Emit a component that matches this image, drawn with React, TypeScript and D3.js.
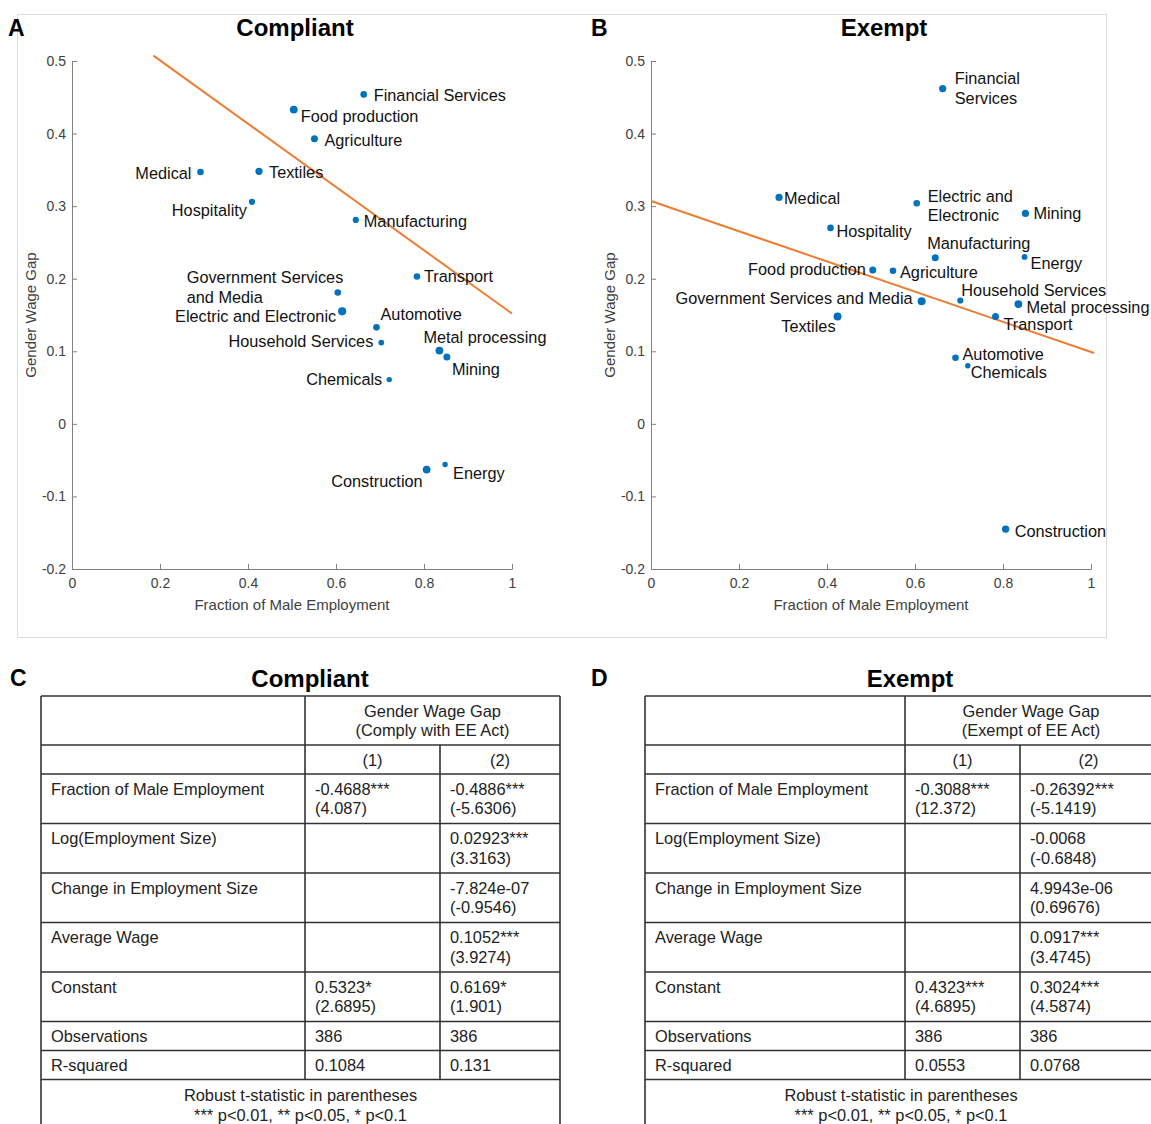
import { useEffect, useRef } from "react";
import * as d3 from "d3";

// sectors, in the same order for every array below
const sectors = [
  "Financial Services", "Food production", "Agriculture", "Medical", "Textiles",
  "Hospitality", "Manufacturing", "Transport", "Government Services and Media",
  "Electric and Electronic", "Automotive", "Household Services", "Metal processing",
  "Mining", "Chemicals", "Construction", "Energy",
];

// panel A - compliant
const compliantMale = [0.663, 0.504, 0.551, 0.292, 0.425, 0.409, 0.645, 0.784, 0.604, 0.614, 0.692, 0.703, 0.835, 0.852, 0.721, 0.806, 0.848];
const compliantGap = [0.454, 0.433, 0.393, 0.347, 0.348, 0.306, 0.281, 0.203, 0.181, 0.155, 0.133, 0.112, 0.101, 0.092, 0.061, -0.063, -0.056];
const compliantLabels = [
  "Financial Services", "Food production", "Agriculture", "Medical", "Textiles",
  "Hospitality", "Manufacturing", "Transport", "Government Services\nand Media",
  "Electric and Electronic", "Automotive", "Household Services", "Metal processing",
  "Mining", "Chemicals", "Construction", "Energy",
];
const compliantFit = { from: 0.185, to: 1.0, intercept: 0.588, slope: -0.436 };

// panel B - exempt
const exemptMale = [0.663, 0.504, 0.55, 0.291, 0.424, 0.408, 0.646, 0.783, 0.615, 0.604, 0.692, 0.703, 0.835, 0.851, 0.72, 0.806, 0.849];
const exemptGap = [0.462, 0.212, 0.211, 0.312, 0.148, 0.27, 0.229, 0.148, 0.169, 0.304, 0.091, 0.17, 0.165, 0.29, 0.08, -0.145, 0.23];
const exemptLabels = [
  "Financial\nServices", "Food production", "Agriculture", "Medical", "Textiles",
  "Hospitality", "Manufacturing", "Transport", "Government Services and Media",
  "Electric and\nElectronic", "Automotive", "Household Services", "Metal processing",
  "Mining", "Chemicals", "Construction", "Energy",
];
const exemptFit = { from: 0, to: 1.007, intercept: 0.307, slope: -0.208 };

const xTicks = [0, 0.2, 0.4, 0.6, 0.8, 1];
const yTicks = [-0.2, -0.1, 0, 0.1, 0.2, 0.3, 0.4, 0.5];

// regression tables
const compliantHeader = ["Gender Wage Gap", "(Comply with EE Act)"];
const exemptHeader = ["Gender Wage Gap", "(Exempt of EE Act)"];
const modelNames = ["(1)", "(2)"];
const rowNames = [
  "Fraction of Male Employment", "Log(Employment Size)", "Change in Employment Size",
  "Average Wage", "Constant", "Observations", "R-squared",
];
const compliantModel1 = [["-0.4688***", "(4.087)"], [], [], [], ["0.5323*", "(2.6895)"], ["386"], ["0.1084"]];
const compliantModel2 = [["-0.4886***", "(-5.6306)"], ["0.02923***", "(3.3163)"], ["-7.824e-07", "(-0.9546)"], ["0.1052***", "(3.9274)"], ["0.6169*", "(1.901)"], ["386"], ["0.131"]];
const exemptModel1 = [["-0.3088***", "(12.372)"], [], [], [], ["0.4323***", "(4.6895)"], ["386"], ["0.0553"]];
const exemptModel2 = [["-0.26392***", "(-5.1419)"], ["-0.0068", "(-0.6848)"], ["4.9943e-06", "(0.69676)"], ["0.0917***", "(3.4745)"], ["0.3024***", "(4.5874)"], ["386"], ["0.0768"]];
const footNotes = ["Robust t-statistic in parentheses", "*** p<0.01, ** p<0.05, * p<0.1"];

// label placement (dx, dy of first line centre, anchor) - layout only
const placeA: [number, number, string][] = [
  [10, 1, "start"], [7, 7, "start"], [10, 2, "start"], [-9, 1, "end"], [10, 1, "start"],
  [-5, 9, "end"], [8, 1, "start"], [7, 0, "start"], [-151, -15, "start"],
  [-6, 5, "end"], [4, -13, "start"], [-8, -1, "end"], [-16, -13, "start"],
  [5, 12, "start"], [-7, 0, "end"], [-4, 12, "end"], [8, 9, "start"],
];
const placeB: [number, number, string][] = [
  [12, -10, "start"], [-7, -1, "end"], [7, 2, "start"], [5, 1, "start"], [-2, 10, "end"],
  [6, 3, "start"], [-8, -14, "start"], [8, 8, "start"], [-9, -3, "end"],
  [11, -7, "start"], [7, -4, "start"], [1, -10, "start"], [8, 3, "start"],
  [8, 0, "start"], [3, 6, "start"], [9, 2, "start"], [6, 6, "start"],
];
const radiusA = [3.3, 3.9, 3.5, 3.3, 3.6, 3.1, 3.1, 3.3, 3.3, 4.1, 3.3, 2.9, 3.9, 3.5, 2.7, 3.9, 2.7];
const radiusB = [3.6, 3.5, 3.3, 3.6, 4, 3.3, 3.5, 3.5, 4, 3.3, 3.3, 3.1, 3.9, 3.6, 2.7, 3.7, 2.9];

const FONT = "'Liberation Sans', Arial, Helvetica, sans-serif";
const DOT = "#0072BD";
const FIT = "#ED7D31";

export default function App() {
  const svgRef = useRef<SVGSVGElement>(null);

  useEffect(() => {
    document.body.style.margin = "0";
    const svg = d3.select(svgRef.current);
    svg.selectAll("*").remove();
    svg.attr("font-family", FONT);

    svg.append("rect").attr("width", 1151).attr("height", 1124).attr("fill", "#fff");
    // light frame around the two scatter panels
    svg.append("rect")
      .attr("x", 17.5).attr("y", 14.5).attr("width", 1089).attr("height", 623)
      .attr("fill", "none").attr("stroke", "#dcdcdc");

    const drawScatter = (opt: any) => {
      const x = d3.scaleLinear().domain([0, 1]).range([opt.left, opt.left + 440]);
      const y = d3.scaleLinear().domain([-0.2, 0.5]).range([569, 61]);
      const g = svg.append("g");

      g.append("text").attr("x", opt.letterX).attr("y", 36)
        .attr("font-size", 23).attr("font-weight", "bold").text(opt.letter);
      g.append("text").attr("x", opt.titleX).attr("y", 36).attr("text-anchor", "middle")
        .attr("font-size", 24).attr("font-weight", "bold").text(opt.title);

      const yAxis = g.append("g").attr("transform", `translate(${x(0)},0)`)
        .call(d3.axisLeft(y).tickValues(yTicks).tickSizeInner(-5).tickSizeOuter(0)
          .tickPadding(6).tickFormat((d: any) => String(+d.toFixed(1))));
      const xAxis = g.append("g").attr("transform", `translate(0,${y(-0.2)})`)
        .call(d3.axisBottom(x).tickValues(xTicks).tickSizeInner(-5).tickSizeOuter(0)
          .tickPadding(9).tickFormat((d: any) => String(+d.toFixed(1))));
      [xAxis, yAxis].forEach((a) => {
        a.select(".domain").attr("stroke", "#808080");
        a.selectAll(".tick line").attr("stroke", "#808080");
        a.selectAll(".tick text").attr("fill", "#404040").attr("font-size", 14).attr("font-family", FONT);
      });

      g.append("text").attr("x", (x(0) + x(1)) / 2).attr("y", 610).attr("text-anchor", "middle")
        .attr("font-size", 15).attr("fill", "#404040").text("Fraction of Male Employment");
      g.append("text").attr("transform", `translate(${x(0) - 36},${(y(-0.2) + y(0.5)) / 2}) rotate(-90)`)
        .attr("text-anchor", "middle").attr("font-size", 15).attr("fill", "#404040").text("Gender Wage Gap");

      const f = opt.fit;
      g.append("line")
        .attr("x1", x(f.from)).attr("y1", y(f.intercept + f.slope * f.from))
        .attr("x2", x(f.to)).attr("y2", y(f.intercept + f.slope * f.to))
        .attr("stroke", FIT).attr("stroke-width", 2);

      g.selectAll(".dot").data(sectors).enter().append("circle")
        .attr("cx", (_d, i) => x(opt.male[i]))
        .attr("cy", (_d, i) => y(opt.gap[i]))
        .attr("r", (_d, i) => opt.radius[i])
        .attr("fill", DOT);

      sectors.forEach((_s, i) => {
        const [dx, dy, anchor] = opt.place[i];
        const t = g.append("text").attr("font-size", 16.3).attr("fill", "#111").attr("text-anchor", anchor);
        opt.labels[i].split("\n").forEach((line: string, k: number) => {
          t.append("tspan")
            .attr("x", x(opt.male[i]) + dx)
            .attr("y", y(opt.gap[i]) + dy + k * 19.5)
            .attr("dy", "0.35em")
            .text(line);
        });
      });
    };

    drawScatter({
      left: 72, letter: "A", letterX: 8, title: "Compliant", titleX: 295,
      male: compliantMale, gap: compliantGap, labels: compliantLabels,
      place: placeA, radius: radiusA, fit: compliantFit,
    });
    drawScatter({
      left: 651, letter: "B", letterX: 591, title: "Exempt", titleX: 884,
      male: exemptMale, gap: exemptGap, labels: exemptLabels,
      place: placeB, radius: radiusB, fit: exemptFit,
    });

    const drawTable = (opt: any) => {
      const g = svg.append("g").attr("font-size", 16.4).attr("fill", "#222");
      const [c0, c1, c2, c3] = opt.cols;
      g.append("text").attr("x", opt.letterX).attr("y", 686)
        .attr("font-size", 23).attr("font-weight", "bold").attr("fill", "#000").text(opt.letter);
      g.append("text").attr("x", opt.titleX).attr("y", 687).attr("text-anchor", "middle")
        .attr("font-size", 24).attr("font-weight", "bold").attr("fill", "#000").text(opt.title);

      const lineH = 19.5;
      const rowH = (n: number) => (n > 1 ? 49.5 : 29);
      const tops: number[] = [];
      let yy = 696;
      tops.push(yy); yy += 49; // header
      tops.push(yy); yy += 29; // model numbers
      rowNames.forEach((_r, i) => {
        tops.push(yy);
        yy += rowH(Math.max(opt.m1[i].length, opt.m2[i].length, 1));
      });
      const footTop = yy;
      const bottom = 1140;

      const stroke = (x1: number, y1: number, x2: number, y2: number) =>
        g.append("line").attr("x1", x1).attr("y1", y1).attr("x2", x2).attr("y2", y2)
          .attr("stroke", "#333").attr("stroke-width", 1.6);

      // horizontals
      [...tops, footTop].forEach((t) => stroke(c0, t, c3, t));
      // verticals
      stroke(c0, 696, c0, bottom);
      stroke(c3, 696, c3, bottom);
      stroke(c1, 696, c1, footTop);
      stroke(c2, tops[1], c2, footTop);

      const cellText = (lines: string[], x: number, top: number, anchor = "start") =>
        lines.forEach((s, k) =>
          g.append("text").attr("x", x).attr("y", top + 15 + k * lineH).attr("dy", "0.35em")
            .attr("text-anchor", anchor).text(s));

      cellText(opt.header, (c1 + c3) / 2, tops[0], "middle");
      cellText([modelNames[0]], (c1 + c2) / 2, tops[1], "middle");
      cellText([modelNames[1]], (c2 + c3) / 2, tops[1], "middle");
      rowNames.forEach((r, i) => {
        const t = tops[i + 2];
        cellText([r], c0 + 10, t);
        cellText(opt.m1[i], c1 + 10, t);
        cellText(opt.m2[i], c2 + 10, t);
      });
      cellText(footNotes, (c0 + c3) / 2, footTop + 1, "middle");
    };

    drawTable({
      cols: [41, 305, 440, 560], letter: "C", letterX: 10, title: "Compliant", titleX: 310,
      header: compliantHeader, m1: compliantModel1, m2: compliantModel2,
    });
    drawTable({
      cols: [645, 905, 1020, 1157], letter: "D", letterX: 591, title: "Exempt", titleX: 910,
      header: exemptHeader, m1: exemptModel1, m2: exemptModel2,
    });
  }, []);

  return <svg ref={svgRef} width={1151} height={1124} style={{ display: "block" }} />;
}
